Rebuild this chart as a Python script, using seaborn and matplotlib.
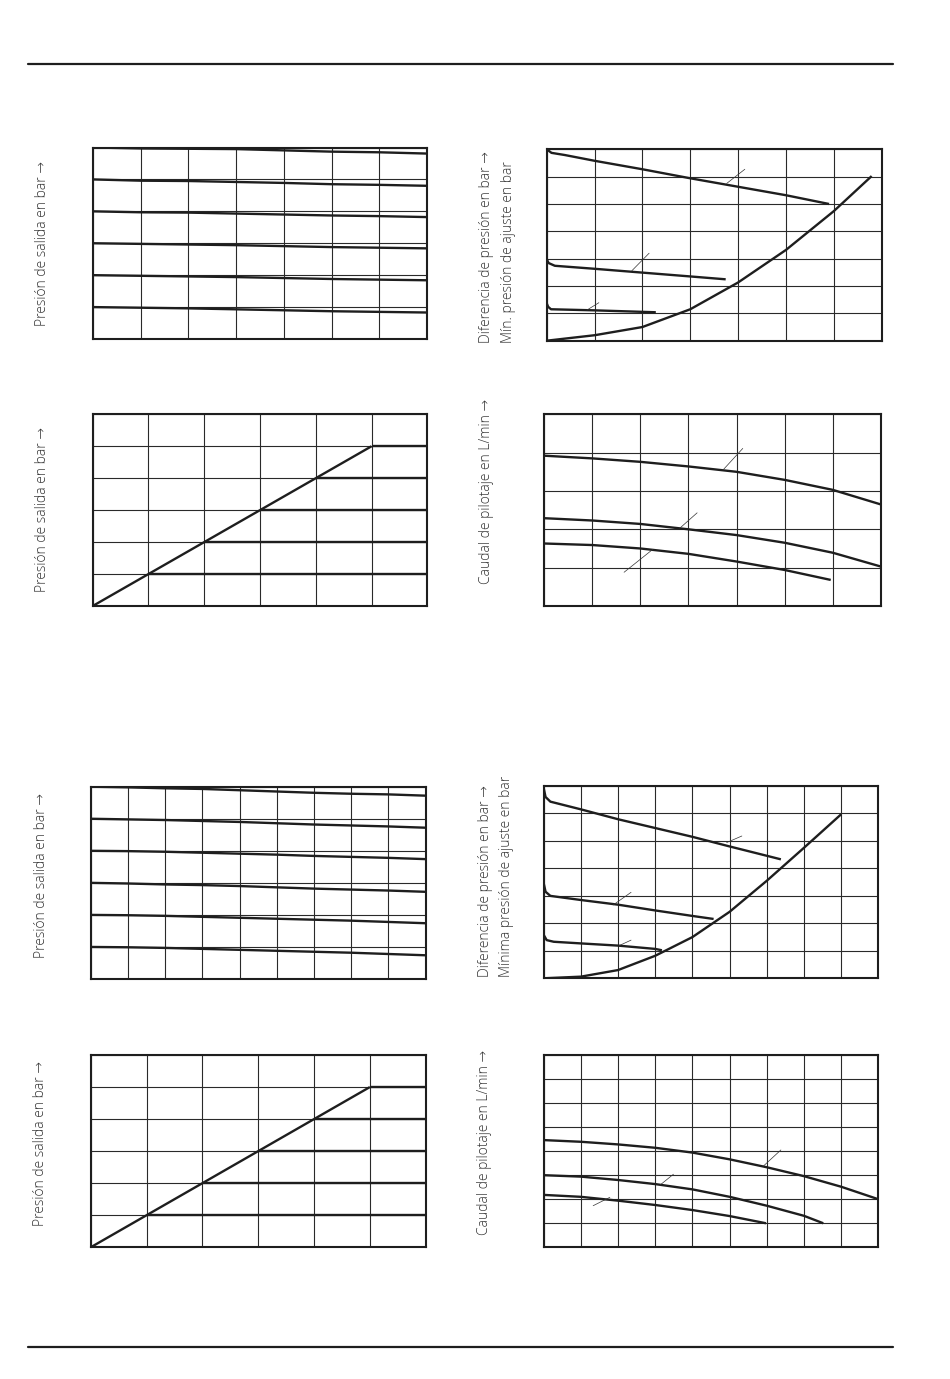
import matplotlib
matplotlib.use("Agg")
import matplotlib.pyplot as plt
from matplotlib.lines import Line2D
import seaborn as sns

# ---------------- data ----------------
# Panel 1: outlet pressure vs flow (7 x 6 grid)
p1_x = [0, 1, 2, 3, 4, 5, 6, 7]
p1_l6 = [6.00, 5.97, 5.96, 5.95, 5.91, 5.87, 5.85, 5.81]
p1_l5 = [5.00, 4.96, 4.95, 4.92, 4.89, 4.85, 4.83, 4.80]
p1_l4 = [4.00, 3.97, 3.96, 3.93, 3.90, 3.87, 3.85, 3.82]
p1_l3 = [3.00, 2.98, 2.96, 2.94, 2.91, 2.88, 2.86, 2.84]
p1_l2 = [2.00, 1.98, 1.96, 1.94, 1.91, 1.88, 1.86, 1.84]
p1_l1 = [1.00, 0.98, 0.96, 0.93, 0.90, 0.87, 0.85, 0.83]

# Panel 2 / 7: outlet pressure vs inlet pressure (6 x 6 grid)
diag_x = [0, 5]
diag_y = [0, 5]
plateau_levels = [1, 2, 3, 4, 5]
plateau_end = 6

# Panel 3: pressure difference (7 x 7 grid)
p3_top_x = [0, 0.1, 0.38, 1, 2, 3, 4, 5, 5.9]
p3_top_y = [7.0, 6.87, 6.79, 6.58, 6.27, 5.94, 5.63, 5.32, 5.0]
p3_mid_x = [0, 0.04, 0.17, 1, 2, 3, 3.74]
p3_mid_y = [2.98, 2.84, 2.74, 2.63, 2.49, 2.35, 2.245]
p3_low_x = [0, 0.03, 0.09, 1, 2.28]
p3_low_y = [1.37, 1.24, 1.15, 1.11, 1.04]
p3_rise_x = [0, 1, 2, 3, 4, 5, 6, 6.79]
p3_rise_y = [0, 0.2, 0.5, 1.15, 2.13, 3.32, 4.74, 6.02]
p3_leaders = [([3.76, 4.14], [5.75, 6.27]), ([1.78, 2.14], [2.56, 3.2]), ([0.84, 1.09], [1.12, 1.39])]

# Panel 4: pilot flow (7 x 5 grid)
p4_x = [0, 1, 2, 3, 4, 5, 6, 7]
p4_top_y = [3.92, 3.85, 3.76, 3.64, 3.50, 3.29, 3.03, 2.65]
p4_mid_y = [2.29, 2.23, 2.14, 2.00, 1.85, 1.65, 1.39, 1.03]
p4_low_x = [0, 1, 2, 3, 4, 5, 5.96]
p4_low_y = [1.63, 1.59, 1.50, 1.36, 1.16, 0.94, 0.68]
p4_leaders = [([3.72, 4.13], [3.55, 4.11]), ([2.82, 3.18], [2.03, 2.43]), ([1.66, 2.26], [0.88, 1.48])]

# Panel 5: outlet pressure vs flow (9 x 6 grid)
p5_x = [0, 1, 2, 3, 4, 5, 6, 7, 8, 9]
p5_l6 = [6.00, 5.98, 5.95, 5.93, 5.89, 5.85, 5.81, 5.78, 5.76, 5.72]
p5_l5 = [5.00, 4.98, 4.96, 4.93, 4.90, 4.86, 4.82, 4.79, 4.76, 4.72]
p5_l4 = [4.00, 3.99, 3.97, 3.94, 3.91, 3.88, 3.84, 3.81, 3.78, 3.74]
p5_l3 = [3.00, 2.98, 2.95, 2.93, 2.90, 2.86, 2.82, 2.79, 2.76, 2.72]
p5_l2 = [2.00, 1.99, 1.97, 1.94, 1.91, 1.88, 1.85, 1.82, 1.78, 1.74]
p5_l1 = [1.00, 0.99, 0.97, 0.94, 0.91, 0.88, 0.85, 0.82, 0.78, 0.74]

# Panel 6: pressure difference (9 x 7 grid)
p6_top_x = [0, 0.05, 0.18, 1, 2, 3, 4, 5, 6, 6.38]
p6_top_y = [6.92, 6.60, 6.43, 6.15, 5.79, 5.47, 5.15, 4.80, 4.46, 4.33]
p6_mid_x = [0, 0.05, 0.18, 1, 2, 3, 4, 4.57]
p6_mid_y = [3.46, 3.15, 3.00, 2.85, 2.68, 2.47, 2.27, 2.16]
p6_low_x = [0, 0.08, 0.27, 1, 2, 3, 3.18]
p6_low_y = [1.58, 1.39, 1.33, 1.27, 1.19, 1.07, 1.02]
p6_rise_x = [0, 1, 2, 3, 4, 5, 6, 7, 8]
p6_rise_y = [0, 0.06, 0.30, 0.82, 1.50, 2.42, 3.55, 4.75, 5.97]
p6_leaders = [([4.92, 5.33], [4.94, 5.18]), ([1.87, 2.35], [2.67, 3.13]), ([2.03, 2.35], [1.19, 1.39])]

# Panel 8: pilot flow (9 x 8 grid)
p8_top_x = [0, 1, 2, 3, 4, 5, 6, 7, 8, 9]
p8_top_y = [4.46, 4.39, 4.28, 4.14, 3.94, 3.66, 3.33, 2.96, 2.52, 2.00]
p8_mid_x = [0, 1, 2, 3, 4, 5, 6, 7, 7.52]
p8_mid_y = [3.00, 2.94, 2.80, 2.63, 2.41, 2.10, 1.73, 1.31, 1.00]
p8_low_x = [0, 1, 2, 3, 4, 5, 5.98]
p8_low_y = [2.18, 2.10, 1.94, 1.76, 1.55, 1.30, 1.00]
p8_leaders = [([5.91, 6.38], [3.38, 4.05]), ([3.13, 3.49], [2.59, 3.04]), ([1.33, 1.78], [1.73, 2.08])]

lbl_out = "Presión de salida en bar \u2192"
lbl_dp = "Diferencia de presión en bar \u2192"
lbl_min1 = "Mín. presión de ajuste en bar"
lbl_min2 = "Mínima presión de ajuste en bar"
lbl_flow = "Caudal de pilotaje en L/min \u2192"

# ---------------- style ----------------
sns.set_style("white")
plt.rcParams['font.family'] = ['Open Sans', 'DejaVu Sans']

W, H = 950, 1379
fig = plt.figure(figsize=(W / 100, H / 100), dpi=100)

INK = "#1e1e1e"
CURVE_LW = 1.7
GRID_LW = 0.8


def add_panel(left, top, right, bottom, ncols, nrows):
    ax = fig.add_axes([left / W, 1 - bottom / H, (right - left) / W, (bottom - top) / H])
    ax.set_xlim(0, ncols)
    ax.set_ylim(0, nrows)
    ax.set_xticks(range(ncols + 1))
    ax.set_yticks(range(nrows + 1))
    ax.set_xticklabels([])
    ax.set_yticklabels([])
    ax.tick_params(length=0)
    ax.grid(True, color="#2a2a2a", linewidth=GRID_LW)
    ax.set_axisbelow(True)
    for s in ax.spines.values():
        s.set_visible(True)
        s.set_color(INK)
        s.set_linewidth(1.5)
    ax.set_xlabel("")
    ax.set_ylabel("")
    return ax


def curve(ax, xs, ys, lw=CURVE_LW):
    sns.lineplot(x=xs, y=ys, ax=ax, color=INK, linewidth=lw, sort=False,
                 estimator=None, solid_capstyle="butt")


def leaders(ax, segs):
    for xs, ys in segs:
        sns.lineplot(x=xs, y=ys, ax=ax, color="#333333", linewidth=0.5,
                     sort=False, estimator=None)


def vlabel(x, y, text, va="center"):
    fig.text(x / W, 1 - y / H, text, rotation=90, ha="center", va=va,
             fontsize=10, color="#333333", fontweight="light")


# Panel 1
ax1 = add_panel(93, 147.5, 427, 339, 7, 6)
for ys in [p1_l6, p1_l5, p1_l4, p1_l3, p1_l2, p1_l1]:
    curve(ax1, p1_x, ys)
vlabel(43, 243.5, lbl_out)

# Panel 2
ax2 = add_panel(92.7, 414.3, 427.3, 606, 6, 6)
curve(ax2, diag_x, diag_y)
for lv in plateau_levels:
    curve(ax2, [lv, plateau_end], [lv, lv])
vlabel(43, 509, lbl_out)

# Panel 3
ax3 = add_panel(546.7, 149.3, 881.7, 340.7, 7, 7)
curve(ax3, p3_top_x, p3_top_y)
curve(ax3, p3_mid_x, p3_mid_y)
curve(ax3, p3_low_x, p3_low_y)
curve(ax3, p3_rise_x, p3_rise_y)
leaders(ax3, p3_leaders)
vlabel(487, 343, lbl_dp, va="bottom")
vlabel(508, 343, lbl_min1, va="bottom")

# Panel 4
ax4 = add_panel(544.3, 414.3, 880.7, 606, 7, 5)
curve(ax4, p4_x, p4_top_y)
curve(ax4, p4_x, p4_mid_y)
curve(ax4, p4_low_x, p4_low_y)
leaders(ax4, p4_leaders)
vlabel(487, 491, lbl_flow)

# Panel 5
ax5 = add_panel(90.7, 786.7, 425.7, 979, 9, 6)
for ys in [p5_l6, p5_l5, p5_l4, p5_l3, p5_l2, p5_l1]:
    curve(ax5, p5_x, ys)
vlabel(42, 875, lbl_out)

# Panel 6
ax6 = add_panel(543.7, 786, 878.3, 978.3, 9, 7)
curve(ax6, p6_top_x, p6_top_y)
curve(ax6, p6_mid_x, p6_mid_y)
curve(ax6, p6_low_x, p6_low_y)
curve(ax6, p6_rise_x, p6_rise_y)
leaders(ax6, p6_leaders)
vlabel(486, 977, lbl_dp, va="bottom")
vlabel(507, 977, lbl_min2, va="bottom")

# Panel 7
ax7 = add_panel(90.7, 1055, 425.7, 1247.3, 6, 6)
curve(ax7, diag_x, diag_y)
for lv in plateau_levels:
    curve(ax7, [lv, plateau_end], [lv, lv])
vlabel(41, 1144, lbl_out)

# Panel 8
ax8 = add_panel(543.7, 1055, 878.3, 1247.3, 9, 8)
curve(ax8, p8_top_x, p8_top_y)
curve(ax8, p8_mid_x, p8_mid_y)
curve(ax8, p8_low_x, p8_low_y)
leaders(ax8, p8_leaders)
vlabel(484, 1142, lbl_flow)

# page rules
for yy in (64, 1346.7):
    fig.add_artist(Line2D([27.5 / W, 892.7 / W], [1 - yy / H, 1 - yy / H],
                          transform=fig.transFigure, color=INK, linewidth=1.6))

fig.savefig("out.png", dpi=100, facecolor="white")
